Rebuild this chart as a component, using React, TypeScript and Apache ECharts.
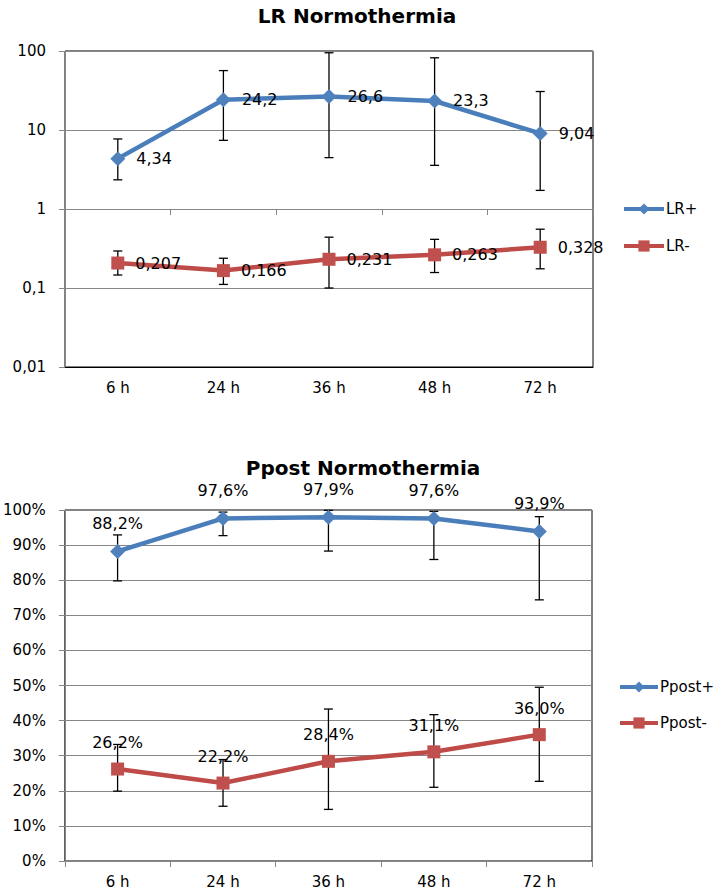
import React, { useEffect, useRef } from "react";
import * as echarts from "echarts";

const categories = ["6 h", "24 h", "36 h", "48 h", "72 h"];

const lrPos = [4.34, 24.2, 26.6, 23.3, 9.04];
const lrPosLow = [2.34, 7.4, 4.47, 3.57, 1.72];
const lrPosHigh = [7.7, 56.5, 95, 82, 30.7];

const lrNeg = [0.207, 0.166, 0.231, 0.263, 0.328];
const lrNegLow = [0.146, 0.111, 0.1, 0.157, 0.175];
const lrNegHigh = [0.294, 0.238, 0.44, 0.413, 0.555];

const ppostPos = [88.2, 97.6, 97.9, 97.6, 93.9];
const ppostPosLow = [79.8, 92.7, 88.3, 85.9, 74.4];
const ppostPosHigh = [92.9, 99.4, 99.9, 99.6, 98.1];

const ppostNeg = [26.2, 22.2, 28.4, 31.1, 36.0];
const ppostNegLow = [19.9, 15.6, 14.7, 21.0, 22.7];
const ppostNegHigh = [33.2, 28.9, 43.3, 41.7, 49.5];

const logTicks = ["0,01", "0,1", "1", "10", "100"];

const FONT = "'DejaVu Sans', 'Liberation Sans', sans-serif";
const BLUE_LINE = "#4A7EBB";
const BLUE = "#4F81BD";
const RED_LINE = "#BE4B48";
const RED = "#C0504D";
const GRID_GRAY = "#878787";

function comma(v: number, digits?: number) {
  const s = digits === undefined ? String(v) : v.toFixed(digits);
  return s.replace(".", ",");
}

function errorSeries(name: string, low: number[], high: number[], xAxisIndex: number, yAxisIndex: number) {
  return {
    type: "custom",
    name,
    xAxisIndex,
    yAxisIndex,
    z: 1,
    silent: true,
    encode: { x: 0, y: [1, 2] },
    data: categories.map((_, i) => [i, low[i], high[i]]),
    renderItem: (params: any, api: any) => {
      const x = api.value(0);
      const lo = api.coord([x, api.value(1)]);
      const hi = api.coord([x, api.value(2)]);
      const hw = 4.5;
      const style = { stroke: "#000", lineWidth: 1.3 };
      return {
        type: "group",
        children: [
          { type: "line", shape: { x1: lo[0], y1: lo[1], x2: hi[0], y2: hi[1] }, style },
          { type: "line", shape: { x1: lo[0] - hw, y1: lo[1], x2: lo[0] + hw, y2: lo[1] }, style },
          { type: "line", shape: { x1: hi[0] - hw, y1: hi[1], x2: hi[0] + hw, y2: hi[1] }, style },
        ],
      };
    },
  };
}

export default function App() {
  const ref = useRef<HTMLDivElement>(null);

  useEffect(() => {
    if (!ref.current) return;
    const chart = echarts.init(ref.current, null, { renderer: "svg" });
    const textStyle = { fontFamily: FONT, fontSize: 16, color: "#000" };
    const axisFont = { fontFamily: FONT, fontSize: 15, color: "#000" };
    const legendText = { fontFamily: FONT, fontSize: 15, color: "#000", lineHeight: 16, padding: [0, 0, 0, -3] };

    const option: any = {
      animation: false,
      backgroundColor: "#fff",
      textStyle,
      title: [
        {
          text: "LR Normothermia",
          left: 352,
          textAlign: "center",
          top: 1,
          textStyle: { fontFamily: FONT, fontSize: 20, fontWeight: "bold", color: "#000" },
        },
        {
          text: "Ppost Normothermia",
          left: 358,
          textAlign: "center",
          top: 453,
          textStyle: { fontFamily: FONT, fontSize: 20, fontWeight: "bold", color: "#000" },
        },
      ],
      legend: [
        {
          data: ["LR+", "LR-"],
          orient: "vertical",
          left: 617,
          top: 196,
          itemWidth: 40,
          itemHeight: 14,
          itemGap: 21,
          lineStyle: { width: 4 },
          textStyle: legendText,
        },
        {
          data: ["Ppost+", "Ppost-"],
          orient: "vertical",
          left: 613,
          top: 674,
          itemWidth: 38,
          itemHeight: 14,
          itemGap: 20,
          lineStyle: { width: 4 },
          textStyle: legendText,
        },
      ],
      grid: [
        { left: 65, top: 51, width: 528, height: 316, show: true, borderColor: "#000", borderWidth: 1, backgroundColor: "transparent" },
        { left: 64, top: 510, width: 528, height: 351, show: true, borderColor: "#000", borderWidth: 1, backgroundColor: "transparent" },
      ],
      xAxis: [
        {
          type: "category",
          gridIndex: 0,
          data: categories,
          axisLine: { show: true, lineStyle: { color: "#000", width: 1 } },
          axisTick: { show: false },
          axisLabel: { ...axisFont, margin: 13 },
          splitLine: { show: false },
        },
        {
          type: "category",
          gridIndex: 0,
          data: categories,
          position: "bottom",
          offset: -158,
          axisLine: { show: true, lineStyle: { color: GRID_GRAY, width: 1 } },
          axisTick: { show: true, length: 6, lineStyle: { color: GRID_GRAY } },
          axisLabel: { show: false },
          splitLine: { show: false },
        },
        {
          type: "category",
          gridIndex: 1,
          data: categories,
          axisLine: { show: true, lineStyle: { color: GRID_GRAY, width: 1 } },
          axisTick: { show: true, length: 6, lineStyle: { color: GRID_GRAY } },
          axisLabel: { ...axisFont, margin: 13 },
          splitLine: { show: false },
        },
      ],
      yAxis: [
        {
          type: "log",
          logBase: 10,
          gridIndex: 0,
          min: 0.01,
          max: 100,
          axisLine: { show: true, lineStyle: { color: GRID_GRAY } },
          axisTick: { show: true, length: 6, lineStyle: { color: GRID_GRAY } },
          axisLabel: {
            ...axisFont,
            margin: 19,
            formatter: (v: number) => {
              const idx = Math.round(Math.log10(v)) + 2;
              return logTicks[idx] ?? comma(v);
            },
          },
          splitLine: { show: true, lineStyle: { color: GRID_GRAY, width: 1 } },
        },
        {
          type: "value",
          gridIndex: 1,
          min: 0,
          max: 100,
          interval: 10,
          axisLine: { show: true, lineStyle: { color: GRID_GRAY } },
          axisTick: { show: true, length: 6, lineStyle: { color: GRID_GRAY } },
          axisLabel: { ...axisFont, margin: 19, formatter: "{value}%" },
          splitLine: { show: true, lineStyle: { color: GRID_GRAY, width: 1 } },
        },
      ],
      series: [
        errorSeries("errLRp", lrPosLow, lrPosHigh, 0, 0),
        errorSeries("errLRn", lrNegLow, lrNegHigh, 0, 0),
        errorSeries("errPp", ppostPosLow, ppostPosHigh, 2, 1),
        errorSeries("errPn", ppostNegLow, ppostNegHigh, 2, 1),
        {
          name: "LR+",
          type: "line",
          xAxisIndex: 0,
          yAxisIndex: 0,
          z: 3,
          data: lrPos,
          symbol: "diamond",
          symbolSize: 15,
          color: BLUE,
          lineStyle: { color: BLUE_LINE, width: 4.5 },
          itemStyle: { color: BLUE },
          label: {
            show: true,
            position: "right",
            distance: 11,
            fontFamily: FONT,
            fontSize: 16,
            color: "#000",
            formatter: (p: any) => comma(p.value),
          },
        },
        {
          name: "LR-",
          type: "line",
          xAxisIndex: 0,
          yAxisIndex: 0,
          z: 3,
          data: lrNeg,
          symbol: "rect",
          symbolSize: 13,
          color: RED,
          lineStyle: { color: RED_LINE, width: 4.5 },
          itemStyle: { color: RED },
          label: {
            show: true,
            position: "right",
            distance: 11,
            fontFamily: FONT,
            fontSize: 16,
            color: "#000",
            formatter: (p: any) => comma(p.value),
          },
        },
        {
          name: "Ppost+",
          type: "line",
          xAxisIndex: 2,
          yAxisIndex: 1,
          z: 3,
          data: ppostPos,
          symbol: "diamond",
          symbolSize: 15,
          color: BLUE,
          lineStyle: { color: BLUE_LINE, width: 4.5 },
          itemStyle: { color: BLUE },
          label: {
            show: true,
            position: "top",
            distance: 12,
            fontFamily: FONT,
            fontSize: 16,
            color: "#000",
            formatter: (p: any) => comma(p.value, 1) + "%",
          },
        },
        {
          name: "Ppost-",
          type: "line",
          xAxisIndex: 2,
          yAxisIndex: 1,
          z: 3,
          data: ppostNeg,
          symbol: "rect",
          symbolSize: 13,
          color: RED,
          lineStyle: { color: RED_LINE, width: 4.5 },
          itemStyle: { color: RED },
          label: {
            show: true,
            position: "top",
            distance: 12,
            fontFamily: FONT,
            fontSize: 16,
            color: "#000",
            formatter: (p: any) => comma(p.value, 1) + "%",
          },
        },
      ],
    };

    chart.setOption(option);
    return () => chart.dispose();
  }, []);

  return (
    <div
      ref={ref}
      style={{ position: "fixed", left: 0, top: 0, width: 723, height: 895, background: "#fff" }}
    />
  );
}
